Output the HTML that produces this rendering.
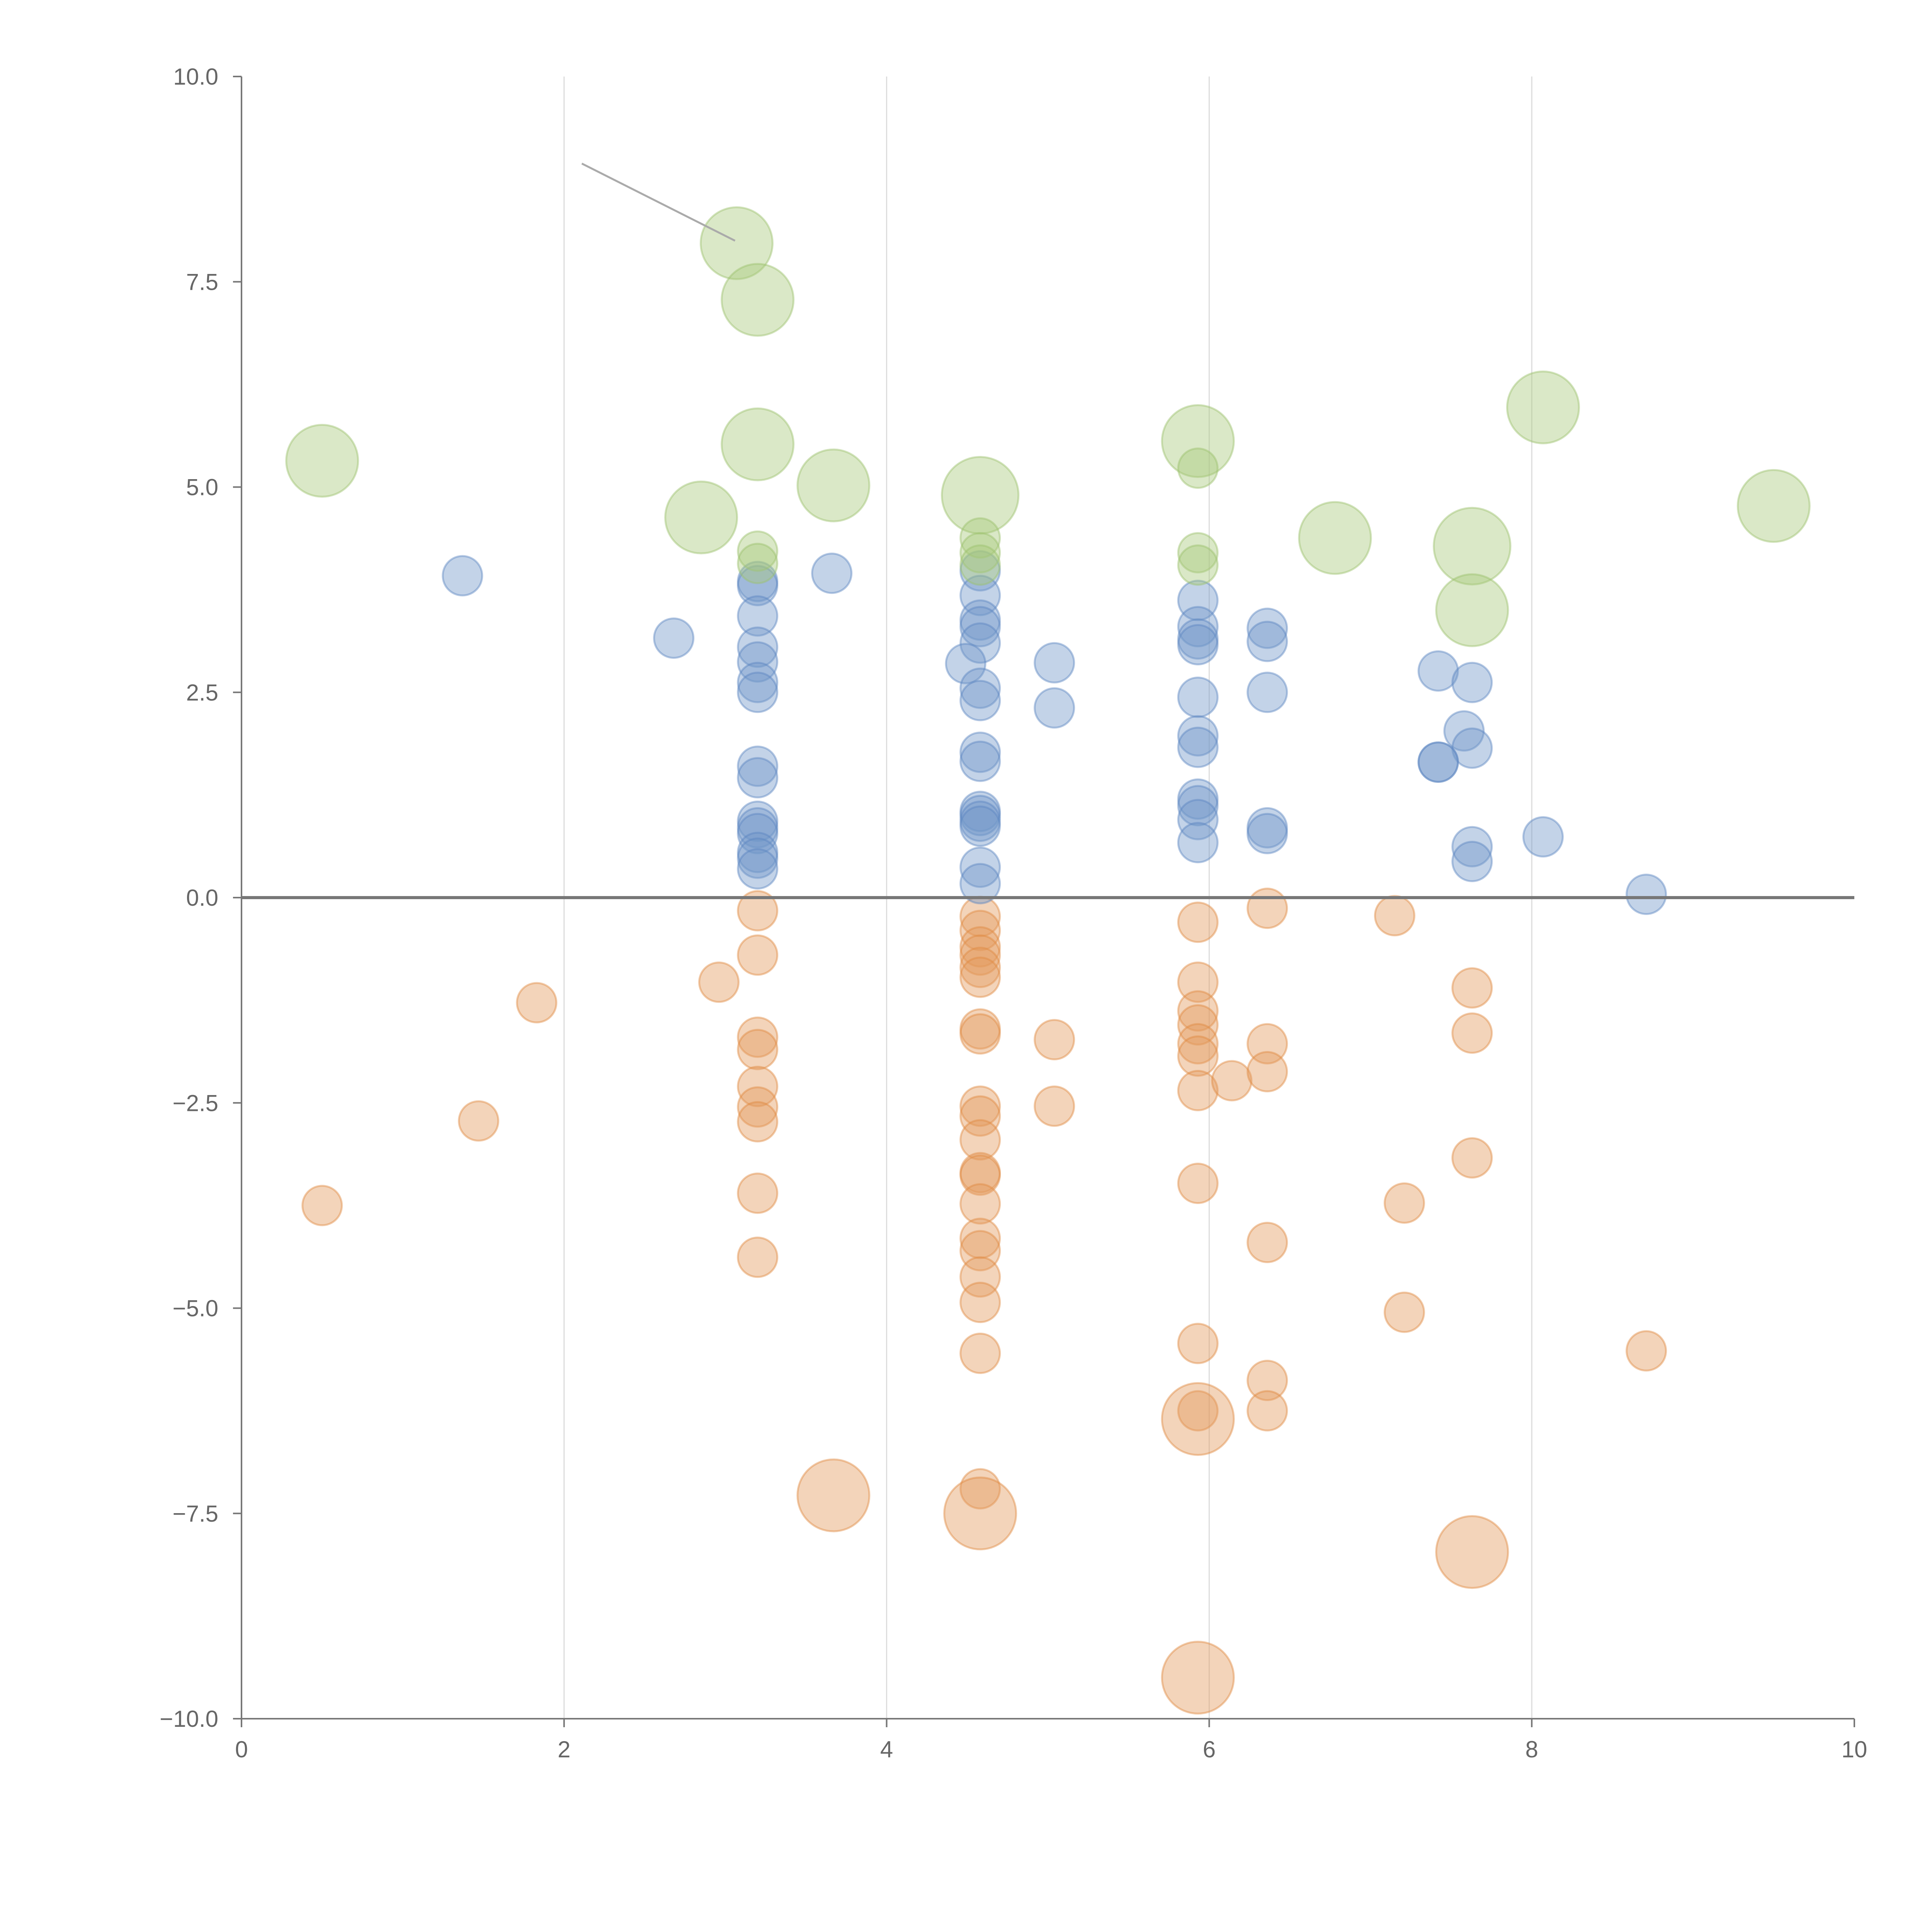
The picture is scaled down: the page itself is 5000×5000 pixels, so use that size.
<!DOCTYPE html>
<html><head><meta charset="utf-8">
<style>
html,body{margin:0;padding:0;background:#fff;}
svg{display:block;font-family:"Liberation Sans",Arial,sans-serif;}
</style></head>
<body>
<svg id="chart" width="5000" height="5000" viewBox="0 0 5000 5000" xmlns="http://www.w3.org/2000/svg"></svg>
<script>
const xTicks = [0, 2, 4, 6, 8, 10];
const yTicks = [-10, -7.5, -5, -2.5, 0, 2.5, 5, 7.5, 10];
const yTickLabels = ["\u221210.0","\u22127.5","\u22125.0","\u22122.5","0.0","2.5","5.0","7.5","10.0"];

const greenX = [3.07,3.2,0.5,3.2,3.67,2.85,4.58,5.93,8.07,6.78,7.63,7.63,9.5,3.2,3.2,4.58,4.58,4.58,5.93,5.93,5.93];
const greenY = [7.97,7.28,5.32,5.52,5.02,4.63,4.9,5.56,5.97,4.38,4.28,3.5,4.77,4.22,4.07,4.38,4.2,4.05,5.23,4.2,4.05];
const greenS = [3,3,3,3,3,3,3.2,3,3,3,3.2,3,3,1,1,1,1,1,1,1,1];

const blueX = [1.37,2.68,3.66,3.2,3.2,3.2,3.2,3.2,3.2,3.2,3.2,3.2,3.2,3.2,3.2,3.2,3.2,3.2,4.58,4.58,4.58,4.58,4.58,4.49,4.58,4.58,4.58,4.58,4.58,4.58,4.58,4.58,4.58,4.58,5.04,5.04,5.93,5.93,5.93,5.93,5.93,5.93,5.93,5.93,5.93,5.93,5.93,6.36,6.36,6.36,6.36,6.36,7.42,7.63,7.58,7.63,7.42,7.42,7.63,7.63,8.07,8.71];
const blueY = [3.92,3.16,3.95,3.85,3.8,3.43,3.05,2.87,2.62,2.5,1.6,1.46,0.93,0.85,0.78,0.55,0.48,0.35,3.98,3.68,3.38,3.3,3.1,2.85,2.55,2.4,1.77,1.66,1.05,1.0,0.93,0.87,0.37,0.17,2.86,2.31,3.62,3.3,3.15,3.08,2.44,1.97,1.83,1.2,1.12,0.95,0.67,3.28,3.12,2.5,0.85,0.78,2.76,2.62,2.03,1.82,1.65,1.65,0.62,0.44,0.74,0.04];

const orangeX = [3.2,3.2,2.96,1.83,1.47,0.5,3.2,3.2,3.2,3.2,3.2,3.2,3.2,4.58,4.58,4.58,4.58,4.58,4.58,4.58,4.58,4.58,4.58,4.58,4.58,4.58,4.58,4.58,4.58,4.58,4.58,4.58,4.58,5.04,5.04,5.93,5.93,5.93,5.93,5.93,5.93,5.93,5.93,5.93,5.93,6.14,6.36,6.36,6.36,6.36,6.36,6.36,7.15,7.21,7.21,7.63,7.63,7.63,8.71,3.67,4.58,5.93,7.63,5.93];
const orangeY = [-0.16,-0.7,-1.03,-1.28,-2.72,-3.75,-1.7,-1.85,-2.3,-2.55,-2.73,-3.6,-4.38,-0.23,-0.4,-0.6,-0.7,-0.85,-0.97,-1.6,-1.66,-2.54,-2.66,-2.95,-3.35,-3.38,-3.73,-4.15,-4.3,-4.62,-4.93,-5.55,-7.2,-1.73,-2.54,-0.3,-1.03,-1.38,-1.55,-1.78,-1.93,-2.35,-3.48,-5.43,-6.25,-2.23,-0.13,-1.78,-2.12,-4.2,-5.88,-6.25,-0.22,-3.72,-5.05,-1.1,-1.65,-3.17,-5.52,-7.28,-7.5,-6.35,-7.97,-9.5];
const orangeS = orangeX.map((_, i) => i >= 59 ? 3 : 1);

const leaderX = [2.11, 3.06];
const leaderY = [8.94, 8.0];

const X0 = 625, X1 = 4799, Y0 = 4448, Y1 = 198;
const sx = v => X0 + (v - 0) / 10 * (X1 - X0);
const sy = v => Y0 - (v + 10) / 20 * (Y0 - Y1);
const rad = s => s >= 3 ? 93 * (s / 3) : 51;

const svg = document.getElementById('chart');
const NS = 'http://www.w3.org/2000/svg';
function mk(tag, attrs) {
  const e = document.createElementNS(NS, tag);
  for (const k in attrs) e.setAttribute(k, attrs[k]);
  svg.appendChild(e);
  return e;
}

xTicks.forEach(t => {
  if (t === 0 || t === 10) return;
  const g = mk('line', {x1: sx(t), x2: sx(t), y1: Y1, y2: Y0, stroke: '#dcdcdc', 'stroke-width': 3});
  
  
});

const ya = mk('line', {x1: X0, x2: X0, y1: Y1, y2: Y0, stroke: '#777', 'stroke-width': 4});


const xa = mk('line', {x1: X0, x2: X1, y1: Y0, y2: Y0, stroke: '#777', 'stroke-width': 4});



xTicks.forEach(t => {
  const tk = mk('line', {x1: sx(t), x2: sx(t), y1: Y0, y2: Y0 + 22, stroke: '#777', 'stroke-width': 4});
  
  
  const tx = mk('text', {x: sx(t), y: Y0 + 100, 'font-size': 60, fill: '#666', 'text-anchor': 'middle'});
  tx.textContent = String(t);
  
  
});
yTicks.forEach((t, i) => {
  const tk = mk('line', {x1: X0 - 22, x2: X0, y1: sy(t), y2: sy(t), stroke: '#777', 'stroke-width': 4});
  
  
  const tx = mk('text', {x: X0 - 60, y: sy(t) + 21, 'font-size': 60, fill: '#666', 'text-anchor': 'end'});
  tx.textContent = yTickLabels[i];
  
  
});

function series(xs, ys, ss, fill, stroke, name) {
  xs.forEach((x, i) => {
    const c = mk('circle', {cx: sx(x), cy: sy(ys[i]), r: rad(ss ? ss[i] : 1), fill: fill, 'fill-opacity': 0.42, stroke: stroke, 'stroke-opacity': 0.45, 'stroke-width': 5});
    
    
  });
}
series(orangeX, orangeY, orangeS, '#e3995a', '#e08a40', 'orange-bubble');
series(blueX, blueY, null, '#6f95c9', '#5b86c2', 'blue-bubble');
series(greenX, greenY, greenS, '#a8c97a', '#9cc06c', 'green-bubble');

const z = mk('line', {x1: X0, x2: X1, y1: sy(0), y2: sy(0), stroke: '#777', 'stroke-width': 8});



const ll = mk('line', {x1: sx(leaderX[0]), y1: sy(leaderY[0]), x2: sx(leaderX[1]), y2: sy(leaderY[1]), stroke: '#aaa', 'stroke-width': 5});


</script>
</body></html>
